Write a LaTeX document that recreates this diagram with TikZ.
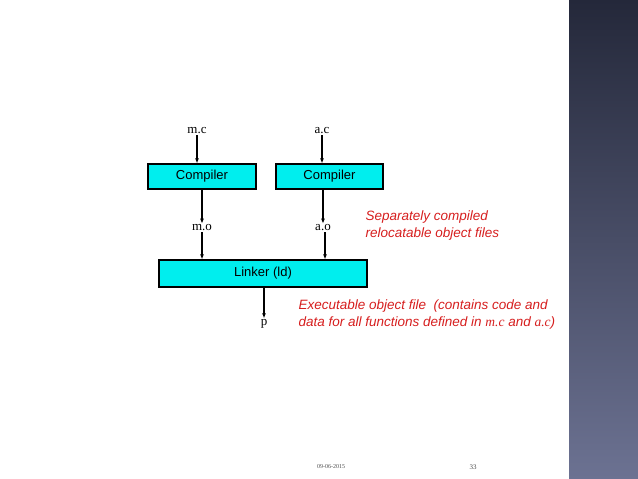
\documentclass[tikz,border=0pt]{standalone}
\usepackage{fontspec}
\setmainfont{Liberation Serif}
\setsansfont{Liberation Sans}
\usetikzlibrary{arrows.meta,calc}
\definecolor{boxcyan}{RGB}{0,238,238}
\definecolor{notered}{RGB}{214,30,30}
\definecolor{bartop}{RGB}{36,40,58}
\definecolor{barbot}{RGB}{108,114,146}

\begin{document}
\begin{tikzpicture}[x=1pt,y=-1pt,
  prog/.style={draw=black,line width=1.2pt,fill=boxcyan,font=\sffamily\fontsize{13}{13}\selectfont,inner sep=0pt},
  file/.style={font=\fontsize{13}{13}\selectfont,inner sep=1pt},
  note/.style={text=notered,font=\sffamily\itshape\fontsize{13.5}{17}\selectfont,align=left,anchor=west},
  flow/.style={line width=1.1pt,-{Latex[length=5pt,width=4pt]}}]

\useasboundingbox (0,0) rectangle (638,479);
\shade [top color=bartop,bottom color=barbot] (569,0) rectangle (638,479);

\node [file] (mc) at (197,131) {m.c};
\node [file] (ac) at (322,131) {a.c};

\node [prog,minimum width=108pt,minimum height=25pt] (cm) at (202,176.5) {Compiler};
\node [prog,minimum width=107pt,minimum height=25pt] (ca) at (329.5,176.5) {Compiler};

\node [file] (mo) at (202,228) {m.o};
\node [file] (ao) at (323,228) {a.o};

\node [prog,minimum width=208pt,minimum height=27pt] (ld) at (263,273.5) {Linker (ld)};

\node [file] (p) at (264,324) {p};

\node [note] (sep) at (362,226) {Separately compiled\\relocatable object files};
\node [note] (exe) at (295,315) {Executable object file\ \ (contains code and\\data for all functions defined in {\rmfamily\itshape m.c} and {\rmfamily\itshape a.c})};

\draw [flow] (mc.south) -- (mc.south |- cm.north);
\draw [flow] (ac.south) -- (ac.south |- ca.north);
\draw [flow] (mo.north |- cm.south) -- (mo.north);
\draw [flow] (ao.north |- ca.south) -- (ao.north);
\draw [flow] (mo.south) -- (mo.south |- ld.north);
\draw [flow] ($(ao.south)+(2,0)$) -- ($(ao.south |- ld.north)+(2,0)$);
\draw [flow] (p.north |- ld.south) -- (p.north);

\node [font=\fontsize{6}{6}\selectfont,text=black!70] (date) at (331,467) {09-06-2015};
\node [font=\fontsize{7}{7}\selectfont,text=black!70] (page) at (473,467) {33};
\end{tikzpicture}
\end{document}
